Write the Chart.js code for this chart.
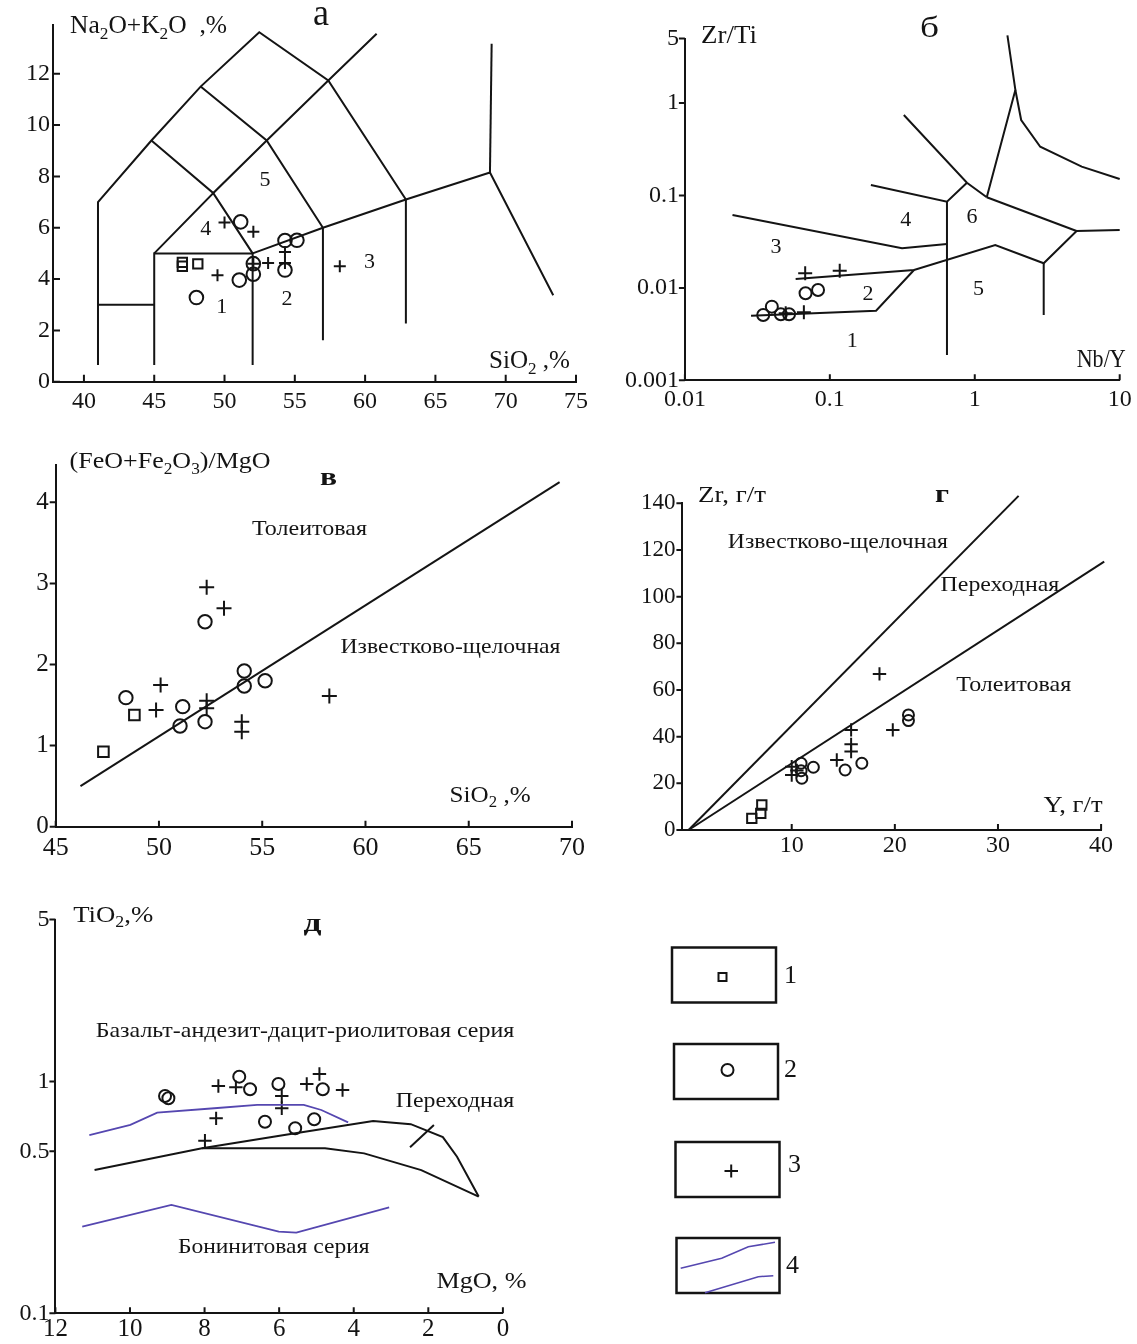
<!DOCTYPE html>
<html>
<head>
<meta charset="utf-8">
<script src="https://cdn.jsdelivr.net/npm/chart.js@4.4.1/dist/chart.umd.min.js"></script>
<style>
  html, body { margin: 0; padding: 0; background: #fff; }
  #page { position: relative; width: 1137px; height: 1344px; overflow: hidden; background: #fff; }
  canvas.layer { position: absolute; left: 0; top: 0; width: 1137px; height: 1344px; }
  #legend { position: absolute; left: 0; top: 0; }
</style>
</head>
<body>
<div id="page">
  <canvas id="chTAS" class="layer" width="1137" height="1344"></canvas>
  <canvas id="chNbY" class="layer" width="1137" height="1344"></canvas>
  <canvas id="chFeMg" class="layer" width="1137" height="1344"></canvas>
  <canvas id="chZrY" class="layer" width="1137" height="1344"></canvas>
  <canvas id="chTiMg" class="layer" width="1137" height="1344"></canvas>
  <svg id="legend" width="1137" height="1344" xmlns="http://www.w3.org/2000/svg">
    <g fill="none" stroke="#141414" stroke-width="2.5">
      <rect x="672" y="947.5" width="104" height="55"/>
      <rect x="674" y="1044" width="104" height="55"/>
      <rect x="675.5" y="1142" width="104" height="55"/>
      <rect x="676.5" y="1238" width="103" height="55"/>
    </g>
    <g fill="none" stroke="#141414" stroke-width="2">
      <rect x="718.5" y="973" width="8" height="8"/>
      <circle cx="727.5" cy="1070" r="6"/>
      <path d="M724.5 1171H738M731.2 1164.5V1177.5"/>
    </g>
    <g fill="none" stroke="#5547b0" stroke-width="1.6">
      <polyline points="680.7,1268.3 721.7,1258.3 748.3,1246.7 775,1242.3"/>
      <polyline points="705,1292.7 758.3,1276.7 773.3,1275.7"/>
    </g>
    <g font-family="'Liberation Serif','Times New Roman',serif" font-size="26" fill="#141414">
      <text x="784" y="983">1</text>
      <text x="784" y="1077">2</text>
      <text x="788" y="1172">3</text>
      <text x="786" y="1273">4</text>
    </g>
  </svg>
</div>
<script>
// ---------- а: Na2O+K2O vs SiO2 ----------
const tasSquares = [[47.0, 4.65], [47.0, 4.5], [48.1, 4.59]];
const tasCircles = [[48.0, 3.28], [51.05, 3.96], [52.05, 4.19], [52.05, 4.6], [51.15, 6.23],
                    [54.3, 4.35], [54.3, 5.5], [55.15, 5.51]];
const tasCrosses = [[50.0, 6.2], [52.05, 5.84], [49.5, 4.15], [52.05, 4.6], [53.1, 4.63],
                    [54.3, 4.63], [54.3, 5.05], [58.2, 4.5]];
const tasFieldLines = [
  [[41, 0.65], [41, 7], [44.8, 9.4], [48.3, 11.5], [52.47, 13.62], [57.38, 11.74], [62.9, 7.1], [62.9, 2.27]],
  [[41, 3], [45, 3]],
  [[45, 0.65], [45, 5], [52, 5], [52, 0.65]],
  [[45, 5], [49.2, 7.35], [52, 5]],
  [[44.8, 9.4], [49.2, 7.35], [53, 9.4], [57.38, 11.74], [60.82, 13.56]],
  [[48.3, 11.5], [53, 9.4], [57, 6.0], [57, 1.62]],
  [[52, 5], [57, 6.0], [62.9, 7.1], [68.88, 8.15], [73.38, 3.37]],
  [[68.88, 8.15], [69, 13.17]]
];
const tasXTicks = [40, 45, 50, 55, 60, 65, 70, 75];
const tasYTicks = [0, 2, 4, 6, 8, 10, 12];

// ---------- б: Zr/Ti vs Nb/Y ----------
const nbyCircles = [[0.0347, 0.00509], [0.0398, 0.00627], [0.0459, 0.00518], [0.0523, 0.00518],
                    [0.068, 0.00874], [0.0829, 0.00949]];
const nbyCrosses = [[0.0676, 0.0144], [0.117, 0.01535], [0.0662, 0.00544], [0.0496, 0.00531]];
const nbyFieldLines = [
  [[0.0286, 0.0050], [0.2085, 0.00567], [0.381, 0.01563]],
  [[0.0581, 0.01248], [0.381, 0.01563], [1.385, 0.0291], [2.99, 0.01846], [5.04, 0.0413], [10, 0.0424]],
  [[2.99, 0.01846], [2.99, 0.00509]],
  [[5.04, 0.0413], [1.21, 0.0957]],
  [[0.324, 0.744], [0.883, 0.1376], [1.21, 0.0957]],
  [[1.21, 0.0957], [1.906, 1.387], [1.68, 5.4]],
  [[1.906, 1.387], [2.09, 0.656], [2.83, 0.337], [5.47, 0.205], [10, 0.151]],
  [[0.643, 0.0857], [0.643, 0.00188]],
  [[0.192, 0.130], [0.643, 0.0857], [0.883, 0.1376]],
  [[0.0213, 0.0615], [0.315, 0.0268], [0.643, 0.0299]]
];
const nbyXTicks = [0.01, 0.1, 1, 10];
const nbyYTicks = [0.001, 0.01, 0.1, 1, 5];

// ---------- в: (FeO+Fe2O3)/MgO vs SiO2 ----------
const femgSquares = [[47.31, 0.925], [48.81, 1.377]];
const femgCircles = [[48.40, 1.591], [51.15, 1.48], [51.02, 1.242], [52.23, 2.528], [52.23, 1.295],
                     [54.13, 1.92], [54.13, 1.735], [55.14, 1.80]];
const femgCrosses = [[52.31, 2.952], [53.15, 2.693], [50.08, 1.747], [49.86, 1.439], [52.31, 1.554],
                     [52.31, 1.46], [54.01, 1.295], [54.01, 1.171], [58.25, 1.612]];
const femgDivide = [[46.2, 0.5], [69.4, 4.25]];
const femgXTicks = [45, 50, 55, 60, 65, 70];
const femgYTicks = [0, 1, 2, 3, 4];

// ---------- г: Zr vs Y ----------
const zrySquares = [[6.13, 5.0], [7.0, 7.15], [7.1, 10.7]];
const zryCircles = [[10.91, 28.6], [10.91, 25.4], [10.98, 22.2], [12.1, 26.9], [15.18, 25.7],
                    [16.8, 28.6], [21.32, 49.3], [21.32, 46.9]];
const zryCrosses = [[18.51, 66.9], [19.8, 42.9], [15.76, 42.9], [15.76, 36.7], [15.76, 33.6],
                    [14.37, 30.0], [10.0, 27.1], [10.0, 23.6], [10.5, 25.5]];
const zryUpperDivide = [[0, 0], [32.0, 143.2]];
const zryLowerDivide = [[0, 0], [40.3, 115]];
const zryXTicks = [10, 20, 30, 40];
const zryYTicks = [0, 20, 40, 60, 80, 100, 120, 140];

// ---------- д: TiO2 vs MgO ----------
const timgCircles = [[9.06, 0.867], [8.97, 0.847], [7.07, 1.05], [6.78, 0.926], [6.02, 0.976],
                     [4.83, 0.926], [6.38, 0.671], [5.57, 0.629], [5.06, 0.688]];
const timgCrosses = [[7.63, 0.957], [7.16, 0.945], [5.26, 0.976], [4.92, 1.078], [4.30, 0.920],
                     [5.93, 0.867], [5.93, 0.767], [7.69, 0.694], [7.99, 0.556]];
const timgTransUpper = [[8.07, 0.515], [5.82, 0.590], [3.48, 0.676], [2.47, 0.655], [1.61, 0.576],
                        [1.23, 0.474], [0.65, 0.319]];
const timgTransLower = [[10.95, 0.415], [8.07, 0.515], [4.77, 0.515], [3.72, 0.490], [2.19, 0.415],
                        [0.65, 0.319]];
const timgPointer = [[2.49, 0.521], [1.85, 0.650]];
const timgBaditUpper = [[11.09, 0.588], [9.99, 0.650], [9.27, 0.734], [7.74, 0.767], [6.59, 0.793],
                        [5.34, 0.793], [4.87, 0.754], [4.15, 0.667]];
const timgBoninLower = [[11.28, 0.2366], [8.89, 0.2934], [6.01, 0.225], [5.54, 0.2228], [3.05, 0.2868]];
const timgXTicks = [12, 10, 8, 6, 4, 2, 0];
const timgYTicks = [0.1, 0.5, 1, 5];

// ---------- drawing helpers ----------
const W = 1137, H = 1344;
const INK = '#141414';
const BLUE = '#5547b0';
const SERIF = '"Liberation Serif", "Times New Roman", serif';

function xy(list) { return list.map(([x, y]) => ({ x, y })); }

function marks(list, kind, r) {
  return {
    data: xy(list), showLine: false, borderColor: INK, backgroundColor: 'rgba(0,0,0,0)',
    pointBorderColor: INK, pointBackgroundColor: 'rgba(0,0,0,0)', pointBorderWidth: 2,
    pointRadius: r, pointHoverRadius: r, pointStyle: kind, clip: false
  };
}

function polyline(list, color, width) {
  return {
    data: xy(list), showLine: true, pointRadius: 0, pointHoverRadius: 0,
    borderColor: color || INK, borderWidth: width || 2, fill: false, tension: 0, clip: false
  };
}

function parseRich(s) {
  const out = [];
  let buf = '';
  for (let i = 0; i < s.length; i++) {
    if (s[i] === '_' && i + 1 < s.length) {
      if (buf) out.push([buf, false]);
      buf = '';
      out.push([s[i + 1], true]);
      i++;
    } else buf += s[i];
  }
  if (buf) out.push([buf, false]);
  return out;
}

function drawRich(ctx, o) {
  const wt = o.bold ? 'bold ' : '';
  const big = wt + o.size + 'px ' + SERIF;
  const small = wt + Math.round(o.size * 0.66) + 'px ' + SERIF;
  const segs = parseRich(o.t);
  let total = 0;
  const widths = segs.map(([s, sub]) => {
    ctx.font = sub ? small : big;
    const w = ctx.measureText(s).width;
    total += w;
    return w;
  });
  const sx = o.w ? o.w / total : 1;
  let x0 = o.x;
  if (o.align === 'center') x0 -= total * sx / 2;
  ctx.save();
  ctx.translate(x0, o.y);
  ctx.scale(sx, 1);
  ctx.fillStyle = INK;
  ctx.textAlign = 'left';
  ctx.textBaseline = 'alphabetic';
  let cx = 0;
  segs.forEach(([s, sub], i) => {
    ctx.font = sub ? small : big;
    ctx.fillText(s, cx, sub ? o.size * 0.22 : 0);
    cx += widths[i];
  });
  ctx.restore();
}

// inward/outward tick marks plus the panel's lettering
function decorations(cfg) {
  return {
    id: 'decorations',
    afterDraw(chart) {
      const ctx = chart.ctx;
      const area = chart.chartArea;
      ctx.save();
      ctx.strokeStyle = INK;
      ctx.lineWidth = 2;
      ctx.beginPath();
      const xs = chart.scales.x;
      xs.ticks.forEach(t => {
        const p = xs.getPixelForValue(t.value);
        ctx.moveTo(p, area.bottom);
        ctx.lineTo(p, area.bottom - cfg.tickLen);
      });
      const ys = chart.scales.y;
      const dir = cfg.yTicks === 'in' ? 1 : -1;
      ys.ticks.forEach(t => {
        const p = ys.getPixelForValue(t.value);
        ctx.moveTo(area.left, p);
        ctx.lineTo(area.left + dir * cfg.tickLen, p);
      });
      ctx.stroke();
      ctx.restore();
      cfg.texts.forEach(o => drawRich(ctx, o));
    }
  };
}

function axis(type, min, max, ticks, o) {
  return {
    type, min, max, reverse: !!o.reverse, offset: false,
    grid: { display: false, drawTicks: false },
    border: { display: true, color: INK, width: 2 },
    ticks: {
      color: INK, font: { family: SERIF, size: o.size }, padding: o.pad,
      autoSkip: false, maxRotation: 0, minRotation: 0,
      callback: v => String(v)
    },
    afterBuildTicks: s => { s.ticks = ticks.map(v => ({ value: v })); },
    afterFit: s => { if (s.isHorizontal()) s.height = 30; else s.width = o.boxW; }
  };
}

function panel(id, area, scales, datasets, deco) {
  // the y-axis box is as wide as the room left of the plot allows, so labels are not clipped
  const boxW = Math.min(80, Math.floor(area.l));
  scales.y.afterFit = s => { s.width = boxW; };
  new Chart(document.getElementById(id), {
    type: 'scatter',
    data: { datasets },
    options: {
      responsive: false, animation: false, events: [], devicePixelRatio: 1,
      layout: { padding: { left: area.l - boxW, top: area.t, right: W - area.r, bottom: H - area.b - 30 } },
      plugins: { legend: { display: false }, tooltip: { enabled: false } },
      scales
    },
    plugins: [decorations(deco)]
  });
}

// ---------- а ----------
panel('chTAS', { l: 53, t: 25, r: 576, b: 381.7 }, {
  x: axis('linear', 37.8, 75, tasXTicks, { size: 24, pad: 5.6 }),
  y: axis('linear', 0, 13.9, tasYTicks, { size: 24, pad: 3 })
}, [
  ...tasFieldLines.map(l => polyline(l)),
  marks(tasSquares, 'rect', 6.6),
  marks(tasCircles, 'circle', 6.8),
  marks(tasCrosses, 'cross', 6)
], {
  tickLen: 7, yTicks: 'in',
  texts: [
    { t: 'Na_2O+K_2O  ,%', x: 70, y: 33, size: 25, w: 157 },
    { t: 'SiO_2 ,%', x: 489, y: 368, size: 25, w: 81 },
    { t: 'а', x: 313, y: 25, size: 38, w: 16 },
    { t: '1', x: 221.7, y: 313, size: 22, align: 'center' },
    { t: '2', x: 287, y: 305, size: 22, align: 'center' },
    { t: '3', x: 369.5, y: 268.3, size: 22, align: 'center' },
    { t: '4', x: 205.8, y: 235, size: 22, align: 'center' },
    { t: '5', x: 265, y: 186, size: 22, align: 'center' }
  ]
});

// ---------- б ----------
panel('chNbY', { l: 684.9, t: 38.5, r: 1123.8, b: 380.3 }, {
  x: axis('logarithmic', 0.01, 10, nbyXTicks, { size: 24, pad: 5.3 }),
  y: axis('logarithmic', 0.001, 5, nbyYTicks, { size: 24, pad: 6 })
}, [
  ...nbyFieldLines.map(l => polyline(l)),
  marks(nbyCircles, 'circle', 6),
  marks(nbyCrosses, 'cross', 7)
], {
  tickLen: 6, yTicks: 'out',
  texts: [
    { t: 'Zr/Ti', x: 701, y: 42.7, size: 25, w: 56 },
    { t: 'б', x: 920, y: 37, size: 30, w: 19 },
    { t: 'Nb/Y', x: 1076.7, y: 366.7, size: 25, w: 49 },
    { t: '1', x: 852.3, y: 346.7, size: 22, align: 'center' },
    { t: '2', x: 868.1, y: 300, size: 22, align: 'center' },
    { t: '3', x: 775.9, y: 253.3, size: 22, align: 'center' },
    { t: '4', x: 905.8, y: 226, size: 22, align: 'center' },
    { t: '5', x: 978.6, y: 295, size: 22, align: 'center' },
    { t: '6', x: 972, y: 222.7, size: 22, align: 'center' }
  ]
});

// ---------- в ----------
panel('chFeMg', { l: 55.7, t: 465, r: 572, b: 826.7 }, {
  x: axis('linear', 45, 70, femgXTicks, { size: 26, pad: 5.6 }),
  y: axis('linear', 0, 4.46, femgYTicks, { size: 25, pad: 7 })
}, [
  polyline(femgDivide),
  marks(femgSquares, 'rect', 7.5),
  marks(femgCircles, 'circle', 6.7),
  marks(femgCrosses, 'cross', 7.5)
], {
  tickLen: 6, yTicks: 'out',
  texts: [
    { t: '(FeO+Fe_2O_3)/MgO', x: 69.6, y: 468.3, size: 24, w: 201 },
    { t: 'в', x: 320, y: 485, size: 26, bold: true, w: 17 },
    { t: 'Толеитовая', x: 252, y: 535, size: 21, w: 115 },
    { t: 'Известково-щелочная', x: 340.5, y: 652.7, size: 21, w: 220 },
    { t: 'SiO_2 ,%', x: 449.6, y: 801.7, size: 24, w: 81 }
  ]
});

// ---------- г ----------
panel('chZrY', { l: 682.4, t: 503.3, r: 1101.1, b: 830 }, {
  x: axis('linear', -0.6, 40, zryXTicks, { size: 24, pad: 1 }),
  y: axis('linear', 0, 140, zryYTicks, { size: 23, pad: 7 })
}, [
  polyline(zryUpperDivide),
  polyline(zryLowerDivide),
  marks(zrySquares, 'rect', 6.6),
  marks(zryCircles, 'circle', 5.5),
  marks(zryCrosses, 'cross', 6.7)
], {
  tickLen: 6, yTicks: 'out',
  texts: [
    { t: 'Zr, г/т', x: 698, y: 501.7, size: 24, w: 68 },
    { t: 'г', x: 935, y: 501.7, size: 26, bold: true, w: 14 },
    { t: 'Известково-щелочная', x: 727.8, y: 548.3, size: 21, w: 220 },
    { t: 'Переходная', x: 940.6, y: 590.7, size: 21, w: 118.6 },
    { t: 'Толеитовая', x: 956.3, y: 690.7, size: 21, w: 115 },
    { t: 'Y, г/т', x: 1043.5, y: 811.7, size: 24, w: 59 }
  ]
});

// ---------- д ----------
panel('chTiMg', { l: 55.4, t: 919.6, r: 502.9, b: 1313.3 }, {
  x: axis('linear', 0, 12, timgXTicks, { size: 25, pad: 1, reverse: true }),
  y: axis('logarithmic', 0.1, 5, timgYTicks, { size: 24, pad: 6 })
}, [
  polyline(timgTransUpper),
  polyline(timgTransLower),
  polyline(timgPointer),
  polyline(timgBaditUpper, BLUE, 1.8),
  polyline(timgBoninLower, BLUE, 1.8),
  marks(timgCircles, 'circle', 6),
  marks(timgCrosses, 'cross', 6.7)
], {
  tickLen: 6, yTicks: 'out',
  texts: [
    { t: 'TiO_2,%', x: 73.2, y: 921.7, size: 24, w: 80 },
    { t: 'д', x: 303.6, y: 931, size: 26, bold: true, w: 18 },
    { t: 'Базальт-андезит-дацит-риолитовая серия', x: 95.7, y: 1036.7, size: 21, w: 418.6 },
    { t: 'Переходная', x: 395.7, y: 1106.7, size: 21, w: 118.6 },
    { t: 'Бонинитовая серия', x: 177.9, y: 1253, size: 21, w: 191.7 },
    { t: 'MgO, %', x: 436.4, y: 1288, size: 24, w: 90 }
  ]
});
</script>
</body>
</html>
